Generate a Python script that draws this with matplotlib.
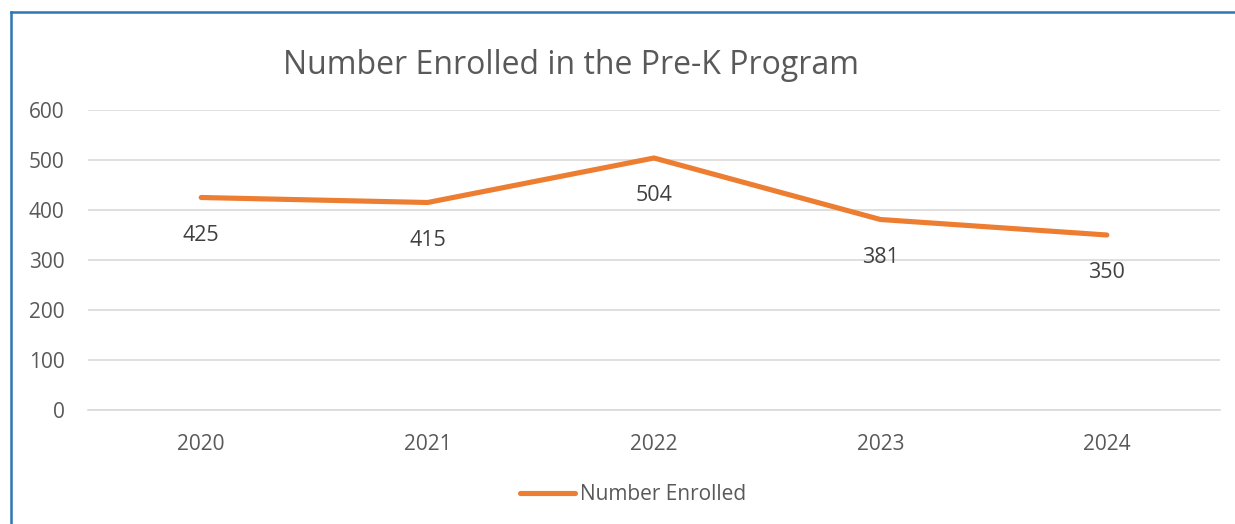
import matplotlib.pyplot as plt
from matplotlib.lines import Line2D

years = ["2020", "2021", "2022", "2023", "2024"]
enrolled = [425, 415, 504, 381, 350]
y_ticks = [0, 100, 200, 300, 400, 500, 600]

W, H = 1235, 524
grey = "#595959"
orange = "#ED7D31"

plt.rcParams["font.family"] = ["Open Sans", "DejaVu Sans"]

fig = plt.figure(figsize=(W / 100, H / 100), dpi=100)
ax = fig.add_axes([88 / W, 1 - 410 / H, (1220 - 88) / W, 300 / H])

x = range(len(years))
ax.plot(x, enrolled, color=orange, lw=3.7, solid_capstyle="round",
        label="Number Enrolled", zorder=3)

# data labels sit under each point
for i, v in enumerate(enrolled):
    ax.annotate(str(v), (i, v), xytext=(0, -27), textcoords="offset points",
                ha="center", va="center", fontsize=15.5, color="#404040")

ax.set_xlim(-0.5, len(years) - 0.5)
ax.set_ylim(0, 600)
ax.set_yticks(y_ticks)
ax.set_xticks(list(x))
ax.set_xticklabels(years)
ax.grid(axis="y", color="#d9d9d9", lw=1.2)
ax.set_axisbelow(True)
for s in ["top", "right", "left"]:
    ax.spines[s].set_visible(False)
ax.spines["bottom"].set_color("#d9d9d9")
ax.spines["bottom"].set_linewidth(1.2)
ax.tick_params(length=0, labelsize=15, colors=grey)
ax.tick_params(axis="y", pad=17)
ax.tick_params(axis="x", pad=17)

fig.text(571 / W, 1 - 65 / H, "Number Enrolled in the Pre-K Program",
         ha="center", va="center", fontsize=23, color=grey)

fig.legend(loc="center", bbox_to_anchor=(633 / W, 1 - 495 / H), frameon=False,
           fontsize=15, labelcolor=grey, handlelength=2.65, handletextpad=0.2)

# blue frame, only left and top edges show
fig.add_artist(Line2D([11 / W, 11 / W], [0, 1 - 12 / H], color="#2E75B6", lw=1.8))
fig.add_artist(Line2D([11 / W, 1], [1 - 12 / H, 1 - 12 / H], color="#2E75B6", lw=1.8))

fig.savefig("out.png", dpi=100)
